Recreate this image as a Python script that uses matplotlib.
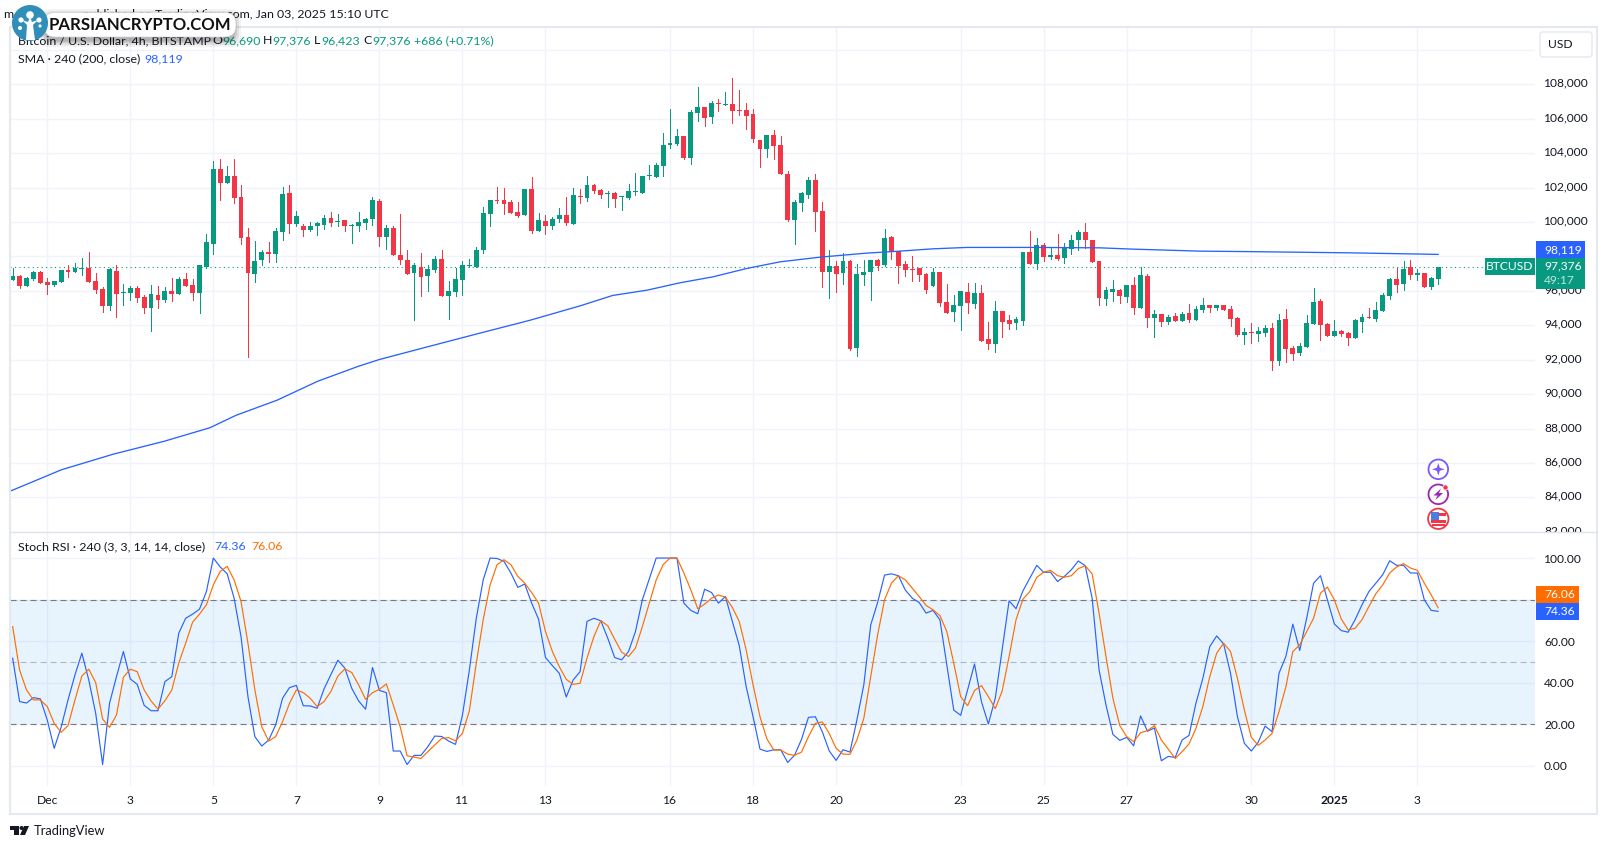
import matplotlib
matplotlib.use("Agg")
import numpy as np
import matplotlib.pyplot as plt
from matplotlib.patches import Rectangle, Circle, FancyBboxPatch, Polygon
from matplotlib.transforms import Affine2D, Bbox, ScaledTranslation

# BTCUSD 4h candles
opens = [96620,96860,96280,96680,97090,96490,96330,96510,97200,97090,97280,97320,96570,96100,95110,97150,95890,95870,96160,95640,
95000,95750,95460,95990,95810,96680,96330,95870,97380,98720,103070,102260,102670,101450,99120,96970,97790,98250,98140,99410,
101680,99880,99760,99530,99760,99820,100230,100010,100110,99780,99760,99940,100170,101220,99120,99650,98080,97790,97030,97380,
96860,97200,97840,95690,95930,96620,97460,97380,98370,100460,101270,101270,101160,100580,100400,101910,99470,100050,99760,100170,
100400,99880,101510,101390,102150,101860,101640,101680,101430,101390,101740,101680,102690,102610,103250,104490,104530,104990,103720,106330,
106680,106100,106910,106820,106860,106510,106510,106270,104760,104240,105060,104470,102790,100110,101100,101560,102440,100640,97090,97440,
97030,97730,92670,96920,97090,97790,97500,99120,98310,97550,97260,97320,96970,96280,97090,95350,94770,95110,95930,95230,
95870,93190,92900,94820,94300,94120,94240,98250,97550,98660,97960,98080,97900,98430,98950,99410,98950,97730,95520,95930,
96040,95640,96330,95000,96860,94420,94650,94180,94530,94240,94710,94300,94880,95170,95000,95170,94940,94420,93430,93600,
93480,93540,93830,91910,94360,92670,92380,92730,94070,95400,94070,93370,93660,93540,93250,94180,94470,94360,94820,95690,
96680,96390,97380,96920,97030,96220,96690]
highs = [97300,96900,96800,97150,97130,96720,96600,97240,97480,97610,97900,98250,97010,96220,97320,97480,96390,96310,96280,95750,
96330,96280,96220,96740,96800,97010,96680,97500,99300,103520,103660,103250,103660,102150,99650,98890,98370,98830,99650,102030,
102150,100640,99880,100000,100000,100400,100580,100460,100110,99880,100580,100230,101450,101330,99820,99760,100460,98370,97610,98190,
97500,98020,98370,96570,97320,97730,97840,98540,100870,101270,102030,101970,101270,101160,101910,102610,100520,100400,100290,100810,
101450,101970,101910,102670,102210,101910,101800,101740,101510,102210,102840,102670,103310,103430,105170,106570,105400,104990,106510,107840,
106680,107030,107150,107550,108370,107670,106910,106570,104760,105060,105340,104990,102960,101270,101740,102610,102790,101160,98370,97730,
98190,97790,97550,97790,97790,97840,99590,99180,98310,97730,98020,97320,97030,97320,97090,96390,95750,95990,96450,96450,
96330,94180,95400,94820,94590,94470,98250,99470,99070,98770,98540,99300,98770,99240,99530,99940,98950,97730,96220,96620,
96100,96330,96800,97380,96970,94880,94650,94590,94710,94770,95230,95110,95580,95170,95170,95170,95110,94470,93830,94120,
93890,94010,94120,94650,94940,92790,92960,94590,96160,95520,94120,94300,93720,93600,94360,94650,95000,95350,95870,96740,
97320,97730,97790,97260,97030,96800,97376]
lows = [96620,96160,96280,96620,96450,95810,96280,96510,96800,97090,96920,96510,95870,94760,94880,94470,95170,95460,95350,94710,
93660,95000,95350,95400,95810,96280,95460,94710,97320,98140,101280,102260,101100,98720,92150,96510,97500,97670,97670,98950,
99360,99760,99180,99470,99240,99590,99760,99760,99470,98780,99470,99590,99820,98600,98430,98080,97550,96970,94300,95690,
95990,97090,95690,94360,95690,95750,97380,97380,98190,99760,101080,100460,100520,100290,100400,99360,99470,99300,99590,99990,
99820,99880,101100,101220,101680,101390,100870,100870,100690,101330,101560,101680,102500,102610,102670,104300,104470,103660,103370,105870,
105580,105750,106450,106800,105750,106220,105400,104650,103190,103770,103660,102790,100050,98720,100640,101390,99470,96220,95580,95930,
96390,92550,92210,96330,95460,97210,97440,97840,96450,96860,96570,96570,95870,96280,95110,94710,94240,93720,94710,95000,
93080,92610,92440,93310,93780,93780,94010,97550,97260,97730,97840,97790,97610,98140,98370,98480,97670,95170,95170,95400,
95290,95350,94650,95000,93890,93310,93950,94070,94240,94240,94180,94300,94760,94760,94880,94880,93950,93370,92900,92960,
93080,93370,91390,91680,91860,91970,92260,92730,94070,93140,93370,93370,93370,92850,93250,93600,94420,94240,94820,95520,
95930,96040,96680,96620,96220,96100,96423]
closes = [96860,96280,96740,97110,96450,96330,96570,97200,97090,97320,97320,96510,96040,95110,97260,95810,95930,96160,95580,95000,
95810,95460,95990,95810,96680,96280,95870,97500,98830,103070,102260,102670,101390,99070,97030,97730,98250,98140,99470,101620,
99880,100350,99530,99760,99940,100230,99940,100050,99760,99820,99990,100170,101270,99120,99650,98080,97790,96970,97500,96800,
97260,97840,95690,95990,96680,97500,97500,98370,100520,101270,101200,101040,100520,100340,101910,99470,100110,99760,100170,100400,
99940,101560,101450,102150,101800,101560,101700,101330,101470,101800,101800,102670,102730,103310,104470,104590,104990,103720,106390,106680,
106040,106910,106860,106860,106450,106450,106160,104820,104240,105060,104410,102790,100110,101160,101680,102440,100580,97090,97440,96970,
97730,92610,96970,97090,97790,97440,99070,98250,97440,97200,97200,96920,96040,97090,95290,94710,95170,95990,95290,95870,
93080,92900,94820,94180,94070,94360,98250,97550,98660,97960,98080,97840,98540,98950,99410,98950,97670,95580,96040,96100,
95690,96330,95000,96920,94420,94650,94180,94470,94240,94650,94300,94940,95170,95000,95170,94880,94360,93430,93600,93540,
93660,93830,91910,94300,92610,92320,92790,94120,95350,94010,93370,93660,93480,93250,94300,94470,94420,94880,95750,96680,
96330,97260,96920,97030,96220,96740,97376]

# 200 period SMA, knots
sma_idx = [-0.4,7.05,14.5,21.9,28.5,32.3,38.2,44.1,50,53,60.3,67.5,74.8,82,86.7,91.7,96.4,101.2,106.1,110.9,116.7,123.4,128.2,133,137.9,147.4,157.1,161.9,171.6,178.8,193.2,206]
sma_val = [84355,85604,86506,87261,88046,88773,89645,90750,91622,92011,92785,93541,94296,95128,95732,96041,96465,96814,97302,97686,97959,98192,98308,98442,98523,98523,98500,98424,98308,98279,98209,98119]

stoch_k = [51.8,30.9,30.2,32.8,32.2,22.0,8.4,18.5,31.7,43.7,54.2,41.3,25.2,0.6,30.1,42.9,55,41.8,39.2,29.1,
26.5,26.5,40.5,42.9,63.8,71,73,75.4,83.9,100,95.7,92.4,80.7,62.2,33.3,14,9.5,12.4,19.6,32.5,
37.6,38.7,28.9,28.8,27.7,37,44,50.8,47,37.3,31.2,27.2,47.3,36.3,35.2,7.1,7.1,0.6,5,5,
9.2,14.3,14.1,11.9,10.3,24.4,46.1,71,89.5,100,99.8,98.4,92.8,85.9,87.5,78.3,70.6,52.1,48.2,44.5,
33.1,41.3,45.3,69.5,71,69.8,61.4,52.1,51,55,64.6,79.9,89.9,100,100,100,100,78.3,74.8,73.2,
85,83.4,78.3,81.5,69.5,57.9,38.1,23.6,8,6.9,7.7,7.7,1.6,5.1,12.7,23.3,23.6,16.4,7.2,2.6,
7.7,6.6,22,38.9,67.8,78.6,91.8,92.4,91.5,84.6,80.7,78.6,73.5,74.8,70.3,48.6,26.8,24.3,36.5,49,
30.9,20.1,32.5,55.8,79.4,75.6,84.2,90.4,96.5,93.1,93.2,88.7,91.2,94.4,98.6,96.3,80.7,46.1,29.3,15.1,
12.2,13.7,9.6,24,16.6,18.2,2.4,4.5,4,12.4,14.6,30.1,42.1,57.4,62.5,58.7,44.5,23.6,10.8,7.1,
11.3,19.1,16.4,44.5,52.6,68.2,55.5,71,87.9,91.5,79.9,68.3,65.1,64.3,70.3,77.5,83.9,87.9,92,98.7,
96.5,96.5,92.8,92.8,79.9,74.8,74.36]
stoch_d = [67,46.1,36.5,31.7,31.7,28.5,20.4,16.1,19.3,31.7,43.2,46.5,40,22.5,18.5,24.4,42.6,46.5,45.3,36.5,
31.2,27.3,31.3,36.5,49.4,59,69.1,73,77.5,87.1,93.6,96,89.5,79.1,59,36.5,18.8,11.9,14,21.2,
30,36.5,35.2,32.5,28.5,30.9,35.9,43.2,46.6,44.9,38.9,32,35.2,36.8,39.4,29.3,18.8,4.8,4.2,3.5,
6.8,10,13.2,13.5,12,15.6,26.5,49.4,70.3,87.1,96.8,99.2,96.8,91.2,87.9,83.4,78.3,64.6,55,47.7,
41.6,39.2,39.7,51.8,62.2,69.9,67.4,60.9,54.7,52.6,56.6,67,78.3,89.5,96.8,100,100,92.8,84.7,75.6,
77.8,80.7,82.2,81.2,76.2,69.5,55.8,38.9,23.6,12.9,7.6,7.6,5.6,5,6.6,14,20.4,21.1,15.6,8.4,
5.6,5.5,12.4,22.8,42.9,63,79.9,87.9,91.5,89.5,85.5,81.5,77.2,75.1,72.3,64.6,49.4,33.3,28.9,36.2,
38.6,33.3,27.5,36,52.6,70.3,80.2,83.9,90.7,93.2,94.1,91.5,90.8,91.5,94.9,96.3,92.4,73.5,52.6,32.5,
19.3,14,11.6,15.9,16.9,19.3,12.4,8,3.5,6.8,10.5,18,28.5,42.9,54.2,59,55,42.1,26.8,13.7,
9.8,12.4,15.6,26,38,55,58.2,64.6,71,83.1,86,79.9,70.7,65.4,66.2,70.3,76.7,82.8,87.1,92.8,
95.7,97.3,95.2,94.1,87.9,82.3,76.06]

tick_idx = [5,17,29,41,53,65,77,95,107,119,137,149,161,179,191,203]
tick_labels = ["Dec","3","5","7","9","11","13","16","18","20","23","25","27","30","2025","3"]
price_ticks = np.arange(82000,110001,2000)
stoch_ticks = [0,20,40,60,80,100]

GREEN = "#089981"
RED = "#f23645"
BLUE = "#2962ff"
ORANGE = "#ff6d00"
INK = "#131722"
GRID = "#f0f3fa"
FRAME = "#e6e8f0"

plt.rcParams["font.family"] = ["Lato","DejaVu Sans"]
W, H = 1607, 849
FS = 12*0.72
HEAD = 12.4*0.72

fig = plt.figure(figsize=(W/100,H/100),dpi=100,facecolor="white")
# overlay artists are placed in screenshot pixels, y pointing down
pix = Affine2D().scale(1,-1).translate(0,H)

def pane(left,top,right,bottom):
    return fig.add_axes([left/W,1-bottom/H,(right-left)/W,(bottom-top)/H])

ax = pane(10,27,1535,532.3)
ax2 = pane(10,532.3,1535,785.7)
x_lim = (-0.386,220.0)

o, h, l, c = map(np.array,(opens,highs,lows,closes))
x = np.arange(len(o))
col = np.where(c>=o,GREEN,RED)

ax.set_xlim(x_lim)
ax.set_ylim(81971,111331)
ax.vlines(x,l,h,colors=col,lw=0.7,antialiased=False,zorder=3)
ax.bar(x,np.maximum(np.abs(c-o),58),bottom=np.minimum(o,c),width=0.7,color=col,linewidth=0,antialiased=False,zorder=3)
ax.plot(sma_idx,sma_val,color=BLUE,lw=0.95,zorder=4,solid_joinstyle="round")
ax.axhline(closes[-1],color=GREEN,lw=0.8,ls=(0,(1,3)),zorder=2)

ax2.set_xlim(x_lim)
ax2.set_ylim(-9.6,112.4)
ax2.axhspan(20,80,color="#2196f3",alpha=0.1,lw=0,zorder=1)
ax2.axhline(80,color="#787b86",lw=0.8,ls=(0,(5.5,3.5)),zorder=2)
ax2.axhline(20,color="#787b86",lw=0.8,ls=(0,(5.5,3.5)),zorder=2)
ax2.axhline(50,color="#787b86",lw=0.8,ls=(0,(5.5,3.5)),alpha=0.5,zorder=2)
ax2.plot(x,stoch_k,color=BLUE,lw=0.85,zorder=3)
ax2.plot(x,stoch_d,color=ORANGE,lw=0.85,zorder=4)

for a in (ax,ax2):
    for s in a.spines.values():
        s.set_visible(False)
    a.set_xticks(tick_idx)
    a.grid(True,color=GRID,lw=1.0)
    a.set_axisbelow(True)
    a.yaxis.tick_right()
    a.tick_params(length=0,labelsize=FS,labelcolor=INK,pad=6.5)

ax.tick_params(axis="x",labelbottom=False)
ax.set_yticks(price_ticks)
# 110,000 sits behind the USD button and 98,000 behind the SMA tag
ax.set_yticklabels(["" if p in (110000,98000) else f"{p:,}" for p in price_ticks])
# price labels sit 2px above their gridlines, the lowest one is cut off by the pane below
nudge = ScaledTranslation(0,2/100,fig.dpi_scale_trans)
for lab in ax.get_yticklabels():
    lab.set_transform(lab.get_transform()+nudge)
    lab.set_clip_on(True)
    lab.set_clip_box(Bbox([[0,H-532.3],[W,H]]))

ax2.set_yticks(stoch_ticks)
# 80.00 sits behind the value tags in the reference
ax2.set_yticklabels(["" if v==80 else f"{v:.2f}" for v in stoch_ticks])
ax2.set_xticklabels(tick_labels)
ax2.tick_params(axis="x",pad=7)
for lab in ax2.get_xticklabels():
    if lab.get_text()=="2025":
        lab.set_fontweight("bold")

def put(px,py,s,color=INK,size=HEAD,ha="left",weight="normal",z=6):
    return fig.text(px,py,s,transform=pix,color=color,fontsize=size,ha=ha,va="center",weight=weight,zorder=z)

def box(x0,y0,x1,y1,color,z=5):
    fig.add_artist(Rectangle((x0,y0),x1-x0,y1-y0,transform=pix,facecolor=color,edgecolor="none",zorder=z))

# frame and pane separator
fig.add_artist(Rectangle((10,27),1587,787,transform=pix,fill=False,edgecolor=FRAME,lw=1.5,zorder=1))
fig.add_artist(plt.Line2D([10,1597],[532.3,532.3],transform=pix,color="#e0e3eb",lw=1,zorder=1))

# header
put(389,14.3,"m                      published on TradingView.com, Jan 03, 2025 15:10 UTC",ha="right")
put(18,41,"Bitcoin / U.S. Dollar, 4h, BITSTAMP")
for px,gap,letter,val in [(212,10,"O","96,690"),(263,9,"H","97,376"),(314,7,"L","96,423"),(363,9,"C","97,376")]:
    put(px,41,letter)
    put(px+gap,41,val,color=GREEN)
put(414,41,"+686 (+0.71%)",color=GREEN)
put(18,59,"SMA · 240 (200, close)")
put(144,59,"98,119",color=BLUE)
put(18,547,"Stoch RSI · 240 (3, 3, 14, 14, close)")
put(214,547,"74.36",color=BLUE)
put(251,547,"76.06",color=ORANGE)

# USD button
fig.add_artist(FancyBboxPatch((1540,32),52,25,boxstyle="round,pad=0,rounding_size=3",transform=pix,facecolor="white",edgecolor=FRAME,lw=1,zorder=5))
put(1548,44.5,"USD",size=FS)

# price tags
box(1485,258,1535,275,GREEN)
put(1510,266.5,"BTCUSD",color="white",ha="center",size=FS)
box(1536,241,1585,258,BLUE)
put(1544,249.5,"98,119",color="white",size=FS)
box(1536,258,1585,288.7,GREEN)
put(1544,266,"97,376",color="white",size=FS)
put(1544,280,"49:17",color="#bfe6de",size=FS)
box(1536,586,1579,603,ORANGE)
put(1544,594.5,"76.06",color="white",size=FS)
box(1536,603,1579,620,BLUE)
put(1544,611.5,"74.36",color="white",size=FS)

# event icons
fig.add_artist(Circle((1438.3,469.3),9.8,transform=pix,fill=False,edgecolor="#7e57ff",lw=1.3,zorder=5))
fig.add_artist(Polygon([(1438.3,463),(1439.8,467.8),(1444.6,469.3),(1439.8,470.8),(1438.3,475.6),(1436.8,470.8),(1432,469.3),(1436.8,467.8)],transform=pix,facecolor="#7e57ff",edgecolor="none",zorder=5))
fig.add_artist(Circle((1438.3,494.3),9.8,transform=pix,fill=False,edgecolor="#9c27b0",lw=1.3,zorder=5))
fig.add_artist(Polygon([(1441,488.5),(1433.5,495.5),(1437.5,495.5),(1435.5,500),(1443,493),(1439,493)],transform=pix,facecolor="#9c27b0",edgecolor="none",zorder=5))
fig.add_artist(Circle((1445.5,487.5),2.6,transform=pix,facecolor=RED,edgecolor="white",lw=0.5,zorder=6))
fig.add_artist(Circle((1438.3,518.8),10.2,transform=pix,facecolor="white",edgecolor=RED,lw=1.3,zorder=5))
box(1431,513,1446,516,RED,z=6)
box(1431,520,1446,523,RED,z=6)
box(1431,512,1439,520,"#4a7fe0",z=7)
fig.add_artist(Rectangle((1432,524),13,1.6,transform=pix,facecolor=RED,edgecolor="none",zorder=6))

# footer logo
fig.add_artist(Polygon([(10,826),(19,826),(19,835),(14,835),(14,830),(10,830)],transform=pix,facecolor=INK,edgecolor="none",zorder=5))
fig.add_artist(Circle((21.5,828),2,transform=pix,facecolor=INK,edgecolor="none",zorder=5))
fig.add_artist(Polygon([(24,826),(29,826),(25,835),(20,835)],transform=pix,facecolor=INK,edgecolor="none",zorder=5))
put(34,831,"TradingView",size=12.9*0.72)

# watermark pasted over the header
for grow,alpha in [(7,0.05),(5,0.07),(3,0.09),(1.5,0.12)]:
    fig.add_artist(FancyBboxPatch((46-grow,14-grow+2),188+2*grow,24+2*grow,boxstyle="round,pad=0,rounding_size=11",transform=pix,facecolor="black",edgecolor="none",alpha=alpha,zorder=8))
fig.add_artist(FancyBboxPatch((44,12.5),192,24.5,boxstyle="round,pad=0,rounding_size=11",transform=pix,facecolor="white",edgecolor="#cfcfcf",lw=0.5,zorder=9))
fig.add_artist(Circle((30,23),18,transform=pix,facecolor="#2f8fb8",edgecolor="none",zorder=10))
fig.add_artist(Polygon([(26,40),(35,40),(33,25),(38,20),(32,22),(30,17),(28,22),(22,20),(27,25)],transform=pix,facecolor="white",edgecolor="none",zorder=11))
for cx,cy,r in [(30,15,3.8),(21,20,2.6),(39,20,2.6),(20,28,2),(40,26,1.6)]:
    fig.add_artist(Circle((cx,cy),r,transform=pix,facecolor="white",edgecolor="none",zorder=11))
put(49,25,"PARSIANCRYPTO.COM",color="#111111",size=16.7*0.72,weight="bold",z=12)

fig.savefig("out.png",dpi=100,facecolor="white")
